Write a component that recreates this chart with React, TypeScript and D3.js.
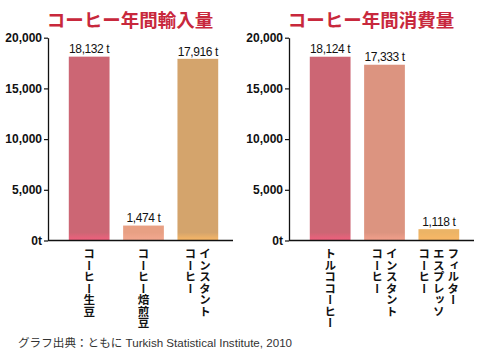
import React, { useRef, useEffect } from 'react';
import * as d3 from 'd3';

// Data
const importTitle = 'コーヒー年間輸入量';
const importLabels = [['コーヒー生豆'], ['コーヒー焙煎豆'], ['インスタント', 'コーヒー']];
const importValues = [18132, 1474, 17916];
const importColors = [
  { main: '#cc6674', bottom: '#f2607e' },
  { main: '#e8a084', bottom: '#f4a890' },
  { main: '#d4a46c', bottom: '#fab866' },
];

const consumeTitle = 'コーヒー年間消費量';
const consumeLabels = [['トルココーヒー'], ['インスタント', 'コーヒー'], ['フィルター', 'エスプレッソ', 'コーヒー']];
const consumeValues = [18124, 17333, 1118];
const consumeColors = [
  { main: '#cc6674', bottom: '#f2607e' },
  { main: '#dc9480', bottom: '#f4a08c' },
  { main: '#ecb466', bottom: '#fab866' },
];

const yTicks = [0, 5000, 10000, 15000, 20000];
const sourceText = 'グラフ出典：ともに Turkish Statistical Institute, 2010';

const LATIN = "'Liberation Sans', Arial, 'Noto Sans CJK JP', sans-serif";
const JP = "'Noto Sans CJK JP', sans-serif";

const App: React.FC = () => {
  const svgRef = useRef<SVGSVGElement>(null);

  useEffect(() => {
    const svg = d3.select(svgRef.current);
    svg.selectAll('*').remove();
    const defs = svg.append('defs');

    const yScale = d3.scaleLinear().domain([0, 20000]).range([240.5, 37.7]);
    const fmt = d3.format(',');

    const drawPanel = (
      id: string,
      offsetX: number,
      title: string,
      labels: string[][],
      values: number[],
      colors: { main: string; bottom: string }[]
    ) => {
      const g = svg.append('g').attr('transform', `translate(${offsetX},0)`);
      const axisX = 48;
      const axisEnd = 233;

      const xScale = d3
        .scaleBand<number>()
        .domain(values.map((_, i) => i))
        .range([62, 225])
        .paddingInner(0.25)
        .paddingOuter(0.125);

      // Title
      g.append('text')
        .attr('x', 130)
        .attr('y', 27)
        .attr('text-anchor', 'middle')
        .attr('fill', '#c8283c')
        .style('font-family', JP)
        .style('font-weight', '700')
        .style('font-size', '18.5px')
        .text(title);

      // Bars with a brighter strip at the base
      values.forEach((v, i) => {
        const grad = defs
          .append('linearGradient')
          .attr('id', `${id}-grad-${i}`)
          .attr('gradientUnits', 'userSpaceOnUse')
          .attr('x1', 0)
          .attr('x2', 0)
          .attr('y1', yScale(0) - 8)
          .attr('y2', yScale(0));
        grad.append('stop').attr('offset', 0).attr('stop-color', colors[i].main);
        grad.append('stop').attr('offset', 1).attr('stop-color', colors[i].bottom);
      });

      g.selectAll('.bar')
        .data(values)
        .enter()
        .append('rect')
        .attr('class', 'bar')
        .attr('x', (_, i) => xScale(i) as number)
        .attr('width', xScale.bandwidth())
        .attr('y', d => yScale(d))
        .attr('height', d => yScale(0) - yScale(d))
        .attr('fill', (_, i) => `url(#${id}-grad-${i})`);

      // Value labels
      g.selectAll('.val')
        .data(values)
        .enter()
        .append('text')
        .attr('class', 'val')
        .attr('x', (_, i) => (xScale(i) as number) + xScale.bandwidth() / 2)
        .attr('y', d => yScale(d) - 3.3)
        .attr('text-anchor', 'middle')
        .attr('fill', '#111')
        .style('font-family', LATIN)
        .style('font-size', '12px')
        .style('letter-spacing', '-0.4px')
        .text(d => `${fmt(d)} t`);

      // Y axis
      const yAxis = d3
        .axisLeft(yScale)
        .tickValues(yTicks)
        .tickSize(4)
        .tickSizeOuter(0)
        .tickPadding(2)
        .tickFormat(d => (Number(d) === 0 ? '0t' : fmt(Number(d))));
      const ya = g.append('g').attr('transform', `translate(${axisX},0)`).call(yAxis);
      ya.select('.domain').attr('stroke', '#111').attr('stroke-width', 1.3);
      ya.selectAll('.tick line').attr('stroke', '#111').attr('stroke-width', 1.2);
      ya.selectAll('.tick text')
        .attr('fill', '#111')
        .style('font-family', LATIN)
        .style('font-weight', '700')
        .style('font-size', '12px');

      // X axis line
      g.append('line')
        .attr('x1', axisX)
        .attr('x2', axisEnd)
        .attr('y1', yScale(0))
        .attr('y2', yScale(0))
        .attr('stroke', '#111')
        .attr('stroke-width', 1.3);

      // Vertical category labels (columns read right to left)
      const colGap = 14.5;
      labels.forEach((cols, i) => {
        const cx = (xScale(i) as number) + xScale.bandwidth() / 2;
        cols.forEach((txt, j) => {
          g.append('text')
            .attr('x', cx + ((cols.length - 1) / 2 - j) * colGap)
            .attr('y', 248)
            .attr('fill', '#111')
            .style('writing-mode', 'vertical-rl')
            .style('font-family', JP)
            .style('font-weight', '700')
            .style('font-size', '11.5px')
            .text(txt);
        });
      });
    };

    drawPanel('imp', 0, importTitle, importLabels, importValues, importColors);
    drawPanel('con', 241, consumeTitle, consumeLabels, consumeValues, consumeColors);

    // Source note
    svg
      .append('text')
      .attr('x', 18)
      .attr('y', 347)
      .attr('fill', '#333')
      .style('font-family', LATIN)
      .style('font-size', '11.6px')
      .text(sourceText);
  }, []);

  return (
    <div style={{ position: 'absolute', left: 0, top: 0 }}>
      <svg ref={svgRef} width={490} height={353} style={{ display: 'block', background: '#fff' }} />
    </div>
  );
};

export default App;
